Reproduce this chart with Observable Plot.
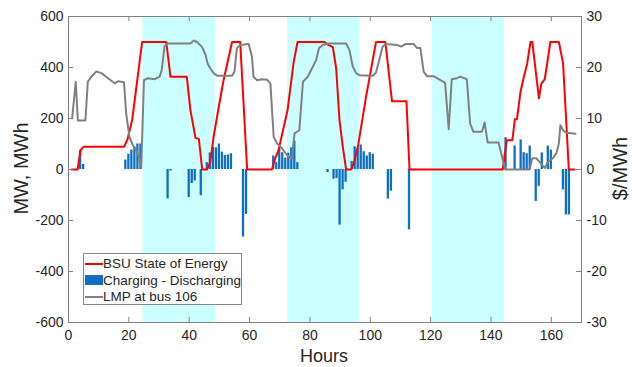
<!DOCTYPE html>
<html>
<head>
<meta charset="utf-8">
<script src="https://cdn.jsdelivr.net/npm/d3@7"></script>
<script src="https://cdn.jsdelivr.net/npm/@observablehq/plot@0.6"></script>
<style>
  html, body { margin: 0; padding: 0; background: #fff; }
  #wrap { position: relative; width: 632px; height: 367px; font-family: "Liberation Sans", Arial, sans-serif; color: #262626; }
  .lab { position: absolute; font-size: 18px; white-space: nowrap; }
  .lab.big { font-size: 20px; }
  #legend { position: absolute; left: 83px; top: 253px; width: 157px; height: 50px; background: #fff; border: 1px solid #888; font-size: 13.5px; }
  #legend .row { position: absolute; left: 0; height: 17px; line-height: 17px; }
  #legend .sw { position: absolute; left: 1px; width: 18px; }
  #legend .tx { position: absolute; left: 19px; top: 0; white-space: nowrap; }
</style>
</head>
<body>
<div id="wrap"></div>
<script>
// Shaded periods (start hour, 24 h long)
const shadeStart = [24.7, 72.6, 120.5];
const shadeLength = 24;

// BSU State of Energy (MWh)
const soeHour = [1,3,4,5,18.4,19.5,21.1,24.4,32.4,33.8,39.2,40.4,42.1,43.2,44.3,45.9,47,48.1,49.8,51.4,54.2,56.9,59.2,67.4,68.5,69.6,72.6,74.6,75.9,84.8,85.9,87.6,88.7,89.8,90.9,92,93.7,94.7,95.9,98.6,101.9,105,107.2,112,113,143.9,145.2,147.1,147.9,148.6,149.8,150.9,152,153.1,153.7,155.9,156.7,157.8,159.7,162.5,163.9,165.8,167.7];
const soeMWh  = [0,0,76,89,89,116,194,500,500,364,364,233,123,120,0,0,30,129,246,351,500,500,0,0,44,76,233,420,500,500,490,480,397,194,89,0,0,30,89,285,500,500,268,268,0,0,115,115,197,197,305,364,416,500,500,279,337,353,500,500,416,0,0];

// Charging - Discharging (MW)
const barHour  = [4,5,19,20,21,22,23,24,33,34,40,41,42,44,46,47,48,49,50,51,52,53,54,58,59,68,69,70,71,72,73,74,75,76,86,88,89,90,91,92,94,95,96,97,98,99,100,101,106,107,113,145,148,150,151,152,153,155,156,157,159,160,164,165,166];
const barValue = [74,20,37,60,76,89,100,100,-115,-6,-110,-55,-45,-103,27,65,87,85,100,68,55,57,62,-265,-176,53,27,83,66,45,64,85,112,27,-12,-38,-35,-218,-80,-50,31,89,83,96,70,53,66,60,-116,-85,-237,125,92,116,66,62,92,-125,-66,65,92,76,-80,-178,-178];

// LMP at bus 106 ($/MWh)
const lmpHour  = [1.2,2.4,3.1,5.6,6.4,7.6,9.2,10.9,13.1,15.3,16.4,18.4,19.1,20.2,21.3,23,24.1,25,26.3,28.5,30.2,30.9,31.8,32.9,40.4,41.5,42.6,44.3,45.4,46.1,47,48.1,49.2,54.2,55,55.8,56.9,59.7,60.8,61.3,62.5,64.1,65.8,66.9,68,69.1,70.7,72.4,74,74.9,76.5,77.7,79.3,81,82.1,83,84.3,86,92,93.1,94.2,95.3,96.4,100.8,101.9,103,104.1,105.2,109,110.3,111.6,114.4,115.5,116.6,117.7,118.8,121,122.7,124.8,126,127,128.7,129.8,132,133.1,134.2,137,137.9,138.9,142.5,144.1,144.7,152.8,153.7,155,156.1,157.8,158.9,160.5,161.7,162.5,163,163.9,165,166.6,168];
const lmpPrice = [10,17.2,9.6,9.6,17.2,18.2,19.2,18.9,17.9,16.9,17.3,17.1,11,6.4,4.8,3.2,0.3,17.5,17.9,17.7,18.2,19.5,24.1,24.7,24.7,25.3,25,24,22.5,20.8,19.8,18.9,18.4,18.4,19.2,23.8,24.4,24.6,22.1,18.2,17.5,17.7,17.6,16.9,6.4,5.1,4.2,2.8,2,7.1,7.7,17.2,18.2,20.2,21.5,23.8,24.4,24.7,24.7,23.4,20.2,18.9,18.5,18.4,19,21.5,24.1,24.6,24.4,24.1,24.6,24.6,23.8,23.8,19.2,18.3,18.3,17.7,17,7.9,17.7,17.9,18.2,17.7,9,7.4,7.4,9.2,5.3,5.3,1.5,0,0,2.2,2.2,1.5,0.3,1.5,2.2,3.2,5.1,8.7,7.7,7.2,7.1,7];

// Axes
const xTicks = [0,20,40,60,80,100,120,140,160];
const yTicks = [-600,-400,-200,0,200,400,600];
const rightTicks = [-30,-20,-10,0,10,20,30];
const priceToMW = 20; // 30 $/MWh at the top of the 600 MW axis

const soe = soeHour.map((h, i) => ({h, v: soeMWh[i]}));
const bars = barHour.map((h, i) => ({h, v: barValue[i]}));
const lmp = lmpHour.map((h, i) => ({h, v: lmpPrice[i] * priceToMW}));
const shades = shadeStart.map(s => ({a: s, b: s + shadeLength}));

const axisColor = "#808080";

const chart = Plot.plot({
  width: 632,
  height: 367,
  marginTop: 16,
  marginRight: 51,
  marginBottom: 45,
  marginLeft: 68,
  x: {domain: [0, 170]},
  y: {domain: [-600, 600]},
  style: {fontFamily: "'Liberation Sans', Arial, sans-serif", fontSize: "14px", color: "#262626", background: "#fff"},
  marks: [
    Plot.rect(shades, {x1: "a", x2: "b", fill: "#ccffff"}),
    Plot.rectY(bars, {x1: d => d.h - 0.38, x2: d => d.h + 0.38, y: "v", fill: "#0f6fc3"}),
    Plot.line(soe, {x: "h", y: "v", stroke: "#ff0000", strokeWidth: 2, strokeLinejoin: "round"}),
    Plot.line(lmp, {x: "h", y: "v", stroke: "#808080", strokeWidth: 2, strokeLinejoin: "round"}),
    Plot.frame({stroke: axisColor}),
    Plot.ruleY(yTicks, {x1: 0, x2: 1.7, stroke: axisColor}),
    Plot.ruleY(yTicks, {x1: 168.3, x2: 170, stroke: axisColor}),
    Plot.ruleX(xTicks, {y1: -600, y2: -580, stroke: axisColor}),
    Plot.ruleX(xTicks, {y1: 600, y2: 580, stroke: axisColor}),
    Plot.axisX({ticks: xTicks, tickSize: 0, tickPadding: 8, label: null, tickFormat: d => String(d)}),
    Plot.axisY({ticks: yTicks, tickSize: 0, tickPadding: 5, label: null, tickFormat: d => String(d)}),
    Plot.axisY({anchor: "right", ticks: rightTicks.map(t => t * priceToMW), tickSize: 0, tickPadding: 5, label: null, tickFormat: d => String(d / priceToMW)})
  ]
});

const wrap = document.getElementById("wrap");
wrap.appendChild(chart);

function addLabel(text, cx, cy, rotate, big) {
  const el = document.createElement("div");
  el.className = big ? "lab big" : "lab";
  el.textContent = text;
  wrap.appendChild(el);
  const w = el.offsetWidth, hgt = el.offsetHeight;
  el.style.left = (cx - w / 2) + "px";
  el.style.top = (cy - hgt / 2) + "px";
  if (rotate) el.style.transform = "rotate(-90deg)";
}
addLabel("MW, MWh", 21, 168, true, true);
addLabel("$/MWh", 620, 168, true, true);
addLabel("Hours", 324, 356, false, false);

// Legend
const legendItems = [
  {label: "BSU State of Energy", kind: "line", color: "#ff0000"},
  {label: "Charging - Discharging", kind: "box", color: "#0f6fc3"},
  {label: "LMP at bus 106", kind: "line", color: "#808080"}
];
const legend = document.createElement("div");
legend.id = "legend";
legendItems.forEach((it, i) => {
  const row = document.createElement("div");
  row.className = "row";
  row.style.top = (1 + i * 16.5) + "px";
  const sw = document.createElement("div");
  sw.className = "sw";
  if (it.kind === "line") {
    sw.style.top = "8px"; sw.style.height = "2px"; sw.style.background = it.color;
  } else {
    sw.style.top = "3px"; sw.style.height = "10px"; sw.style.background = it.color;
  }
  const tx = document.createElement("div");
  tx.className = "tx";
  tx.textContent = it.label;
  row.appendChild(sw); row.appendChild(tx);
  legend.appendChild(row);
});
wrap.appendChild(legend);
</script>
</body>
</html>
